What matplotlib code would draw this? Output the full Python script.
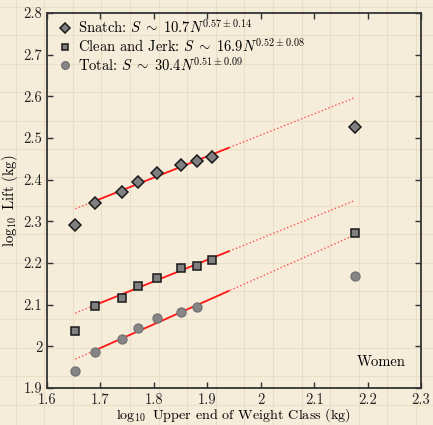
import numpy as np
import matplotlib
matplotlib.use('Agg')
import matplotlib.pyplot as plt

plt.rcParams['font.family'] = ['cmr10', 'DejaVu Serif']
plt.rcParams['mathtext.fontset'] = 'cm'
plt.rcParams['axes.formatter.use_mathtext'] = True

# log10 of upper end of each weight class (last one is the open class)
x_classes = [1.653, 1.690, 1.740, 1.771, 1.806, 1.851, 1.881, 1.908, 2.176]
snatch = [2.292, 2.345, 2.370, 2.395, 2.417, 2.436, 2.445, 2.454, 2.526]
clean_jerk = [2.037, 2.098, 2.117, 2.146, 2.164, 2.188, 2.193, 2.207, 2.272]
x_total = [1.653, 1.690, 1.740, 1.771, 1.806, 1.851, 1.881, 2.176]
total = [1.940, 1.987, 2.018, 2.045, 2.068, 2.083, 2.094, 2.170]

# fitted lines  y = a + b*x
fit_a = [1.487, 1.227, 1.027]
fit_b = [0.510, 0.516, 0.570]
fit_solid = (1.690, 1.940)
fit_dotted = (1.653, 2.176)

labels = [r'Snatch: $S\;\sim\;10.7N^{0.57\pm0.14}$',
          r'Clean and Jerk: $S\;\sim\;16.9N^{0.52\pm0.08}$',
          r'Total: $S\;\sim\;30.4N^{0.51\pm0.09}$']

bg = '#f5ecda'
fig = plt.figure(figsize=(4.33, 4.25), dpi=100, facecolor=bg)

# faint paper grid behind everything
for gx in np.arange(-13, 433, 28.6):
    fig.add_artist(plt.Line2D([gx / 433, gx / 433], [0, 1], color='#e9dfc7', lw=0.8, zorder=0))
for gy in np.arange(7, 425, 28.4):
    fig.add_artist(plt.Line2D([0, 1], [1 - gy / 425, 1 - gy / 425], color='#e9dfc7', lw=0.8, zorder=0))

ax = fig.add_axes([47 / 433, 1 - 388 / 425, 374 / 433, 375 / 425])
ax.set_facecolor('none')

for a, b in zip(fit_a, fit_b):
    xd = np.array(fit_dotted)
    ax.plot(xd, a + b * xd, ':', color='#ff5050', lw=1.0, zorder=2)
    xs = np.array(fit_solid)
    ax.plot(xs, a + b * xs, '-', color='#ff1a1a', lw=1.3, zorder=2)

ax.plot(x_classes, snatch, 'D', ms=6.5, mfc='#808080', mec='#1a1a1a', mew=1.1,
        ls='none', label=labels[0], zorder=3)
ax.plot(x_classes, clean_jerk, 's', ms=5.6, mfc='#808080', mec='#1a1a1a', mew=1.1,
        ls='none', label=labels[1], zorder=3)
ax.plot(x_total, total, 'o', ms=6.6, mfc='#858585', mec='#6e6e6e', mew=0.8,
        ls='none', label=labels[2], zorder=3)

ax.set_xlim(1.6, 2.3)
ax.set_ylim(1.9, 2.8)
ax.set_xticks(np.arange(1.6, 2.31, 0.1))
ax.set_xticklabels(['1.6', '1.7', '1.8', '1.9', '2', '2.1', '2.2', '2.3'])
ax.set_yticks(np.arange(1.9, 2.81, 0.1))
ax.set_yticklabels(['1.9', '2', '2.1', '2.2', '2.3', '2.4', '2.5', '2.6', '2.7', '2.8'])
ax.tick_params(direction='in', top=True, right=True, length=4, width=1,
               colors='#333333', labelsize=10.5, labelcolor='#222222')
for s in ax.spines.values():
    s.set_color('#333333')
    s.set_linewidth(1.3)

ax.set_xlabel(r'$\log_{10}$ Upper end of Weight Class (kg)', fontsize=10.2, labelpad=-0.5)
ax.set_ylabel(r'$\log_{10}$ Lift (kg)', fontsize=10.5, labelpad=2)

ax.text(0.96, 0.05, 'Women', transform=ax.transAxes, ha='right', va='bottom', fontsize=10.5)

ax.legend(loc='upper left', bbox_to_anchor=(0.0, 1.015), frameon=False, fontsize=10.5,
          handletextpad=0.4, borderaxespad=0.35, labelspacing=0.05, handlelength=1.0,
          markerscale=0.85)

fig.savefig('out.png', dpi=100, facecolor=bg)
